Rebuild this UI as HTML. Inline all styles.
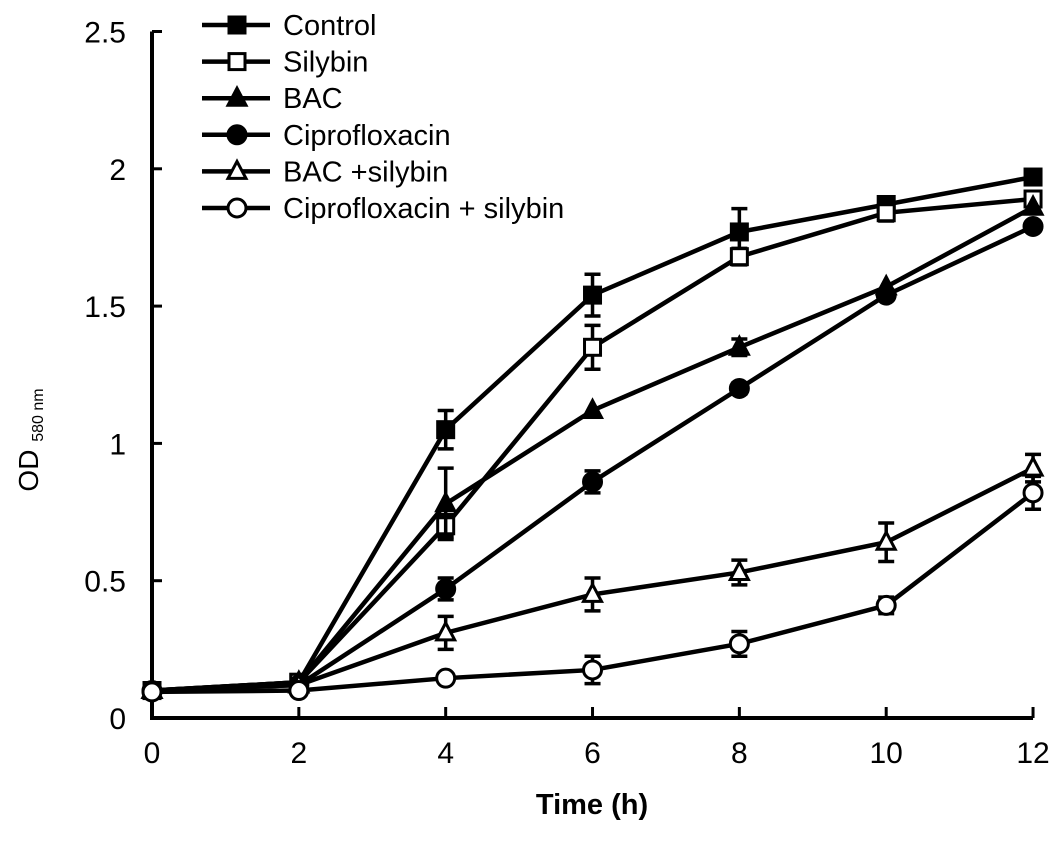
<!DOCTYPE html>
<html><head><meta charset="utf-8"><style>
body{margin:0;background:#fff}
svg{display:block;font-family:"Liberation Sans",Arial,sans-serif}
</style></head><body>
<svg id="chart" width="1063" height="843" viewBox="0 0 1063 843">
<g id="axes"></g><g id="series"></g><g id="legend"></g>
</svg>
<script>
const times=[0,2,4,6,8,10,12];
const xTicks=[0,2,4,6,8,10,12];
const yTicks=[0,0.5,1,1.5,2,2.5];
const yTickLabels=["0","0.5","1","1.5","2","2.5"];
const seriesNames=["Control","Silybin","BAC","Ciprofloxacin","BAC +silybin","Ciprofloxacin + silybin"];
const markers=["sq-fill","sq-open","tri-fill","circ-fill","tri-open","circ-open"];
const control=[0.10,0.13,1.05,1.54,1.77,1.87,1.97];
const controlErr=[0.01,0.01,0.07,0.076,0.085,0.02,0.01];
const silybin=[0.10,0.13,0.70,1.35,1.68,1.84,1.89];
const silybinErr=[0.01,0.01,0.04,0.08,0.03,0.03,0.02];
const bac=[0.10,0.13,0.78,1.12,1.35,1.57,1.86];
const bacErr=[0.01,0.01,0.13,0.01,0.03,0.01,0.01];
const cipro=[0.10,0.12,0.47,0.86,1.20,1.54,1.79];
const ciproErr=[0.01,0.01,0.04,0.04,0.02,0.01,0.01];
const bacSil=[0.10,0.12,0.31,0.45,0.53,0.64,0.91];
const bacSilErr=[0.01,0.01,0.06,0.06,0.045,0.07,0.05];
const ciproSil=[0.095,0.10,0.145,0.175,0.27,0.41,0.82];
const ciproSilErr=[0.01,0.01,0.01,0.05,0.045,0.03,0.06];
const allSeries=[control,silybin,bac,cipro,bacSil,ciproSil];
const allErr=[controlErr,silybinErr,bacErr,ciproErr,bacSilErr,ciproSilErr];

const NS="http://www.w3.org/2000/svg";
const X0=152,XK=73.42,Y0=718,YK=274.6;
const xs=v=>X0+v*XK, ys=v=>Y0-v*YK;
function mk(tag,attrs,parent){const e=document.createElementNS(NS,tag);for(const k in attrs)e.setAttribute(k,attrs[k]);parent.appendChild(e);return e;}
const axes=document.getElementById('axes');
const a1=mk('path',{d:`M${X0},${ys(2.5)}H${X0}V${Y0}H${xs(12)}`,fill:'none',stroke:'#000','stroke-width':4},axes);


yTicks.forEach((t,i)=>{
  const l=mk('line',{x1:X0,x2:X0+10,y1:ys(t),y2:ys(t),stroke:'#000','stroke-width':3},axes);
  
  
  const tx=mk('text',{x:126,y:ys(t)+11,'text-anchor':'end','font-size':30},axes);
  tx.textContent=yTickLabels[i];
  
  
});
xTicks.forEach(t=>{
  const l=mk('line',{x1:xs(t),x2:xs(t),y1:Y0,y2:Y0-11,stroke:'#000','stroke-width':3},axes);
  
  
  const tx=mk('text',{x:xs(t),y:763,'text-anchor':'middle','font-size':30},axes);
  tx.textContent=String(t);
  
  
});
const xt=mk('text',{x:592,y:814,'text-anchor':'middle','font-size':29,'font-weight':'bold'},axes);
xt.textContent='Time (h)';


const yt=mk('text',{transform:'translate(38,440) rotate(-90)','text-anchor':'middle','font-size':28},axes);
yt.innerHTML='OD <tspan font-size="16" dy="5">580 nm</tspan>';



function marker(type,cx,cy,parent){
  let e;
  const fill=type.endsWith('fill')?'#000':'#fff';
  if(type.startsWith('sq'))e=mk('rect',{x:cx-8,y:cy-8,width:16,height:16,fill,stroke:'#000','stroke-width':3},parent);
  else if(type.startsWith('tri'))e=mk('polygon',{points:`${cx},${cy-10} ${cx+9},${cy+7} ${cx-9},${cy+7}`,fill,stroke:'#000','stroke-width':3},parent);
  else e=mk('circle',{cx,cy,r:9,fill,stroke:'#000','stroke-width':3},parent);
  return e;
}
const sg=document.getElementById('series');
allSeries.forEach((vals,si)=>{
  const g=mk('g',{},sg);
  
  
  const p=mk('polyline',{points:vals.map((v,i)=>xs(times[i])+','+ys(v)).join(' '),fill:'none',stroke:'#000','stroke-width':4.5},g);
  
  
  vals.forEach((v,i)=>{
    const e=allErr[si][i];
    if(e>0.015){
      const x=xs(times[i]);
      const eb=mk('path',{d:`M${x},${ys(v+e)}V${ys(v-e)}M${x-8},${ys(v+e)}H${x+8}M${x-8},${ys(v-e)}H${x+8}`,stroke:'#000','stroke-width':3.5,fill:'none'},g);
      
      
    }
    const m=marker(markers[si],xs(times[i]),ys(v),g);
    
    
  });
});
const lg=document.getElementById('legend');
seriesNames.forEach((n,i)=>{
  const y=25+36.6*i;
  const g=mk('g',{},lg);
  
  
  mk('line',{x1:202,x2:270,y1:y,y2:y,stroke:'#000','stroke-width':4.5},g);
  marker(markers[i],237,y,g);
  const t=mk('text',{x:283,y:y+10,'font-size':29},g);
  t.textContent=n;
});
</script>
</body></html>
